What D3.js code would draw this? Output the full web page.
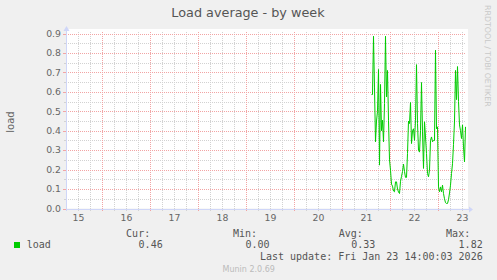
<!DOCTYPE html>
<html><head><meta charset="utf-8">
<script src="https://cdn.jsdelivr.net/npm/d3@7"></script>
<style>
html,body{margin:0;padding:0;background:#F0F0F0;}
svg{display:block;}
</style></head>
<body>
<script>
// ---- data ----
const title = "Load average - by week";
const yLabel = "load";
const seriesName = "load";
const rangeStart = "2026-01-15T06:00:00Z";
const rangeEnd = "2026-01-23T14:00:00Z";
const dataStart = "2026-01-21T14:30:00Z";
const stepMinutes = 30;
const loadValues = [0.586,0.586,0.886,0.62,0.343,0.45,0.50,0.715,0.223,0.638,
  0.40,0.454,0.343,0.54,0.886,0.574,0.71,0.454,0.25,0.197,
  0.125,0.115,0.09,0.086,0.137,0.137,0.10,0.085,0.077,0.14,
  0.165,0.19,0.228,0.19,0.16,0.16,0.283,0.45,0.437,0.545,
  0.334,0.40,0.41,0.35,0.454,0.74,0.437,0.30,0.29,0.40,
  0.648,0.394,0.206,0.446,0.368,0.283,0.18,0.163,0.197,0.35,
  0.368,0.343,0.35,0.35,0.814,0.41,0.42,0.111,0.086,0.111,
  0.086,0.12,0.077,0.05,0.03,0.026,0.026,0.045,0.08,0.12,
  0.18,0.23,0.33,0.45,0.71,0.56,0.73,0.55,0.43,0.40,
  0.36,0.43,0.317,0.24,0.42];
const yTicks = [0.0,0.1,0.2,0.3,0.4,0.5,0.6,0.7,0.8,0.9];
const yMinorTicks = [0.05,0.15,0.25,0.35,0.45,0.55,0.65,0.75,0.85];
const dayLabels = ["15","16","17","18","19","20","21","22","23"];
const statLabels = ["Cur:","Min:","Avg:","Max:"];
const statValues = ["0.46","0.00","0.33","1.82"];
const lastUpdate = "Last update: Fri Jan 23 14:00:03 2026";
const watermark = "RRDTOOL / TOBI OETIKER";
const footer = "Munin 2.0.69";

// ---- chart ----
const W = 497, H = 280;
const L = 66, R = 466, T = 33.5, B = 208.5;
const svg = d3.select("body").append("svg").attr("width", W).attr("height", H);
svg.append("rect").attr("width", W).attr("height", H).attr("fill", "#F0F0F0");

const x = d3.scaleUtc().domain([new Date(rangeStart), new Date(rangeEnd)]).range([L, R]);
const y = d3.scaleLinear().domain([0, 0.9]).range([B, T]);

svg.append("rect").attr("x", L).attr("y", 29).attr("width", R - L + 2).attr("height", B - 29).attr("fill", "#fff");

const px = v => Math.round(v) + 0.5;
const grid = svg.append("g").attr("shape-rendering", "crispEdges");
const GREY = "#d2d2d2", RED = "#f2a4a4";

const t0 = new Date(rangeStart), t1 = new Date(rangeEnd);
const sixH = d3.utcHour.every(6).range(t0, t1);
const days = d3.utcDay.range(t0, t1);
sixH.forEach(t => {
  if (t.getUTCHours() === 0) return;
  const xx = px(x(t));
  grid.append("line").attr("x1", xx).attr("x2", xx).attr("y1", 32).attr("y2", B)
    .attr("stroke", GREY).attr("stroke-dasharray", "1,1");
  grid.append("line").attr("x1", xx).attr("x2", xx).attr("y1", B + 0.5).attr("y2", B + 2.5).attr("stroke", GREY);
});
yMinorTicks.forEach(v => {
  const yy = px(y(v));
  grid.append("line").attr("x1", L).attr("x2", R).attr("y1", yy).attr("y2", yy)
    .attr("stroke", GREY).attr("stroke-dasharray", "1,1");
  grid.append("line").attr("x1", L - 2).attr("x2", L).attr("y1", yy).attr("y2", yy).attr("stroke", GREY);
});
days.forEach(t => {
  const xx = px(x(t));
  grid.append("line").attr("x1", xx).attr("x2", xx).attr("y1", 32).attr("y2", B)
    .attr("stroke", RED).attr("stroke-dasharray", "1,1");
  grid.append("line").attr("x1", xx).attr("x2", xx).attr("y1", B + 0.5).attr("y2", B + 2.5).attr("stroke", RED);
});
yTicks.forEach(v => {
  const yy = px(y(v));
  grid.append("line").attr("x1", L).attr("x2", R).attr("y1", yy).attr("y2", yy)
    .attr("stroke", RED).attr("stroke-dasharray", "1,1");
  grid.append("line").attr("x1", L - 3).attr("x2", L).attr("y1", yy).attr("y2", yy).attr("stroke", RED);
});

const AX = "#CFD6F8";
grid.append("line").attr("x1", L).attr("x2", R + 3).attr("y1", px(y(0))).attr("y2", px(y(0))).attr("stroke", AX);
grid.append("line").attr("x1", L + 0.5).attr("x2", L + 0.5).attr("y1", B + 2).attr("y2", 30).attr("stroke", AX);
svg.append("path").attr("d", `M${R + 3},${px(y(0)) - 3}L${R + 7},${px(y(0))}L${R + 3},${px(y(0)) + 3}Z`).attr("fill", AX);
svg.append("path").attr("d", `M${L - 2.5},31L${L + 0.5},26L${L + 3.5},31Z`).attr("fill", AX);

const ds = new Date(dataStart);
const pts = loadValues.map((v, i) => ({t: new Date(ds.getTime() + i * stepMinutes * 60000), v}));
svg.append("path").datum(pts)
  .attr("d", d3.line().x(d => x(d.t) + 0.5).y(d => y(d.v)))
  .attr("fill", "none").attr("stroke", "#00CC00").attr("stroke-width", 1);

const FONT = "DejaVu Sans, sans-serif", MONO = "DejaVu Sans Mono, monospace";
const TXT = "#666";
svg.append("text").attr("x", 248).attr("y", 17.3).attr("text-anchor", "middle")
  .attr("font-family", FONT).attr("font-size", 12.8).attr("fill", "#555").text(title);

yTicks.forEach(v => {
  svg.append("text").attr("x", 61).attr("y", y(v) + 3.3).attr("text-anchor", "end")
    .attr("font-family", FONT).attr("font-size", 9.3).attr("fill", TXT).text(v.toFixed(1));
});
const noonList = dayLabels.map((d, i) => new Date(Date.UTC(2026, 0, +d, 12)));
dayLabels.forEach((lab, i) => {
  svg.append("text").attr("x", x(noonList[i]) + 0.5).attr("y", 220.7).attr("text-anchor", "middle")
    .attr("font-family", FONT).attr("font-size", 9.3).attr("fill", TXT).text(lab);
});

svg.append("text").attr("transform", "translate(13.5,122) rotate(-90)").attr("text-anchor", "middle")
  .attr("font-family", FONT).attr("font-size", 10).attr("fill", TXT).text(yLabel);
svg.append("text").attr("transform", "translate(485,5) rotate(90)").attr("text-anchor", "start")
  .attr("font-family", FONT).attr("font-size", 7.9).attr("fill", "#c8c8c8").text(watermark);

const LEG = "#555";
svg.append("rect").attr("x", 14).attr("y", 242).attr("width", 6).attr("height", 6).attr("fill", "#00CC00");
svg.append("text").attr("x", 26.7).attr("y", 248).attr("font-family", MONO).attr("font-size", 10).attr("fill", LEG).text(seriesName);
const statRight = [150.2, 257, 362.8, 470.2];
statLabels.forEach((s, i) => {
  svg.append("text").attr("x", statRight[i]).attr("y", 237.2).attr("text-anchor", "end")
    .attr("font-family", MONO).attr("font-size", 10).attr("fill", LEG).text(s);
  svg.append("text").attr("x", statRight[i] + 12.5).attr("y", 248).attr("text-anchor", "end")
    .attr("font-family", MONO).attr("font-size", 10).attr("fill", LEG).text(statValues[i]);
});
svg.append("text").attr("x", 482.7).attr("y", 259.5).attr("text-anchor", "end")
  .attr("font-family", MONO).attr("font-size", 10).attr("fill", LEG).text(lastUpdate);
svg.append("text").attr("x", 248.7).attr("y", 272.3).attr("text-anchor", "middle")
  .attr("font-family", FONT).attr("font-size", 8).attr("fill", "#bbb").text(footer);
</script>
</body></html>
